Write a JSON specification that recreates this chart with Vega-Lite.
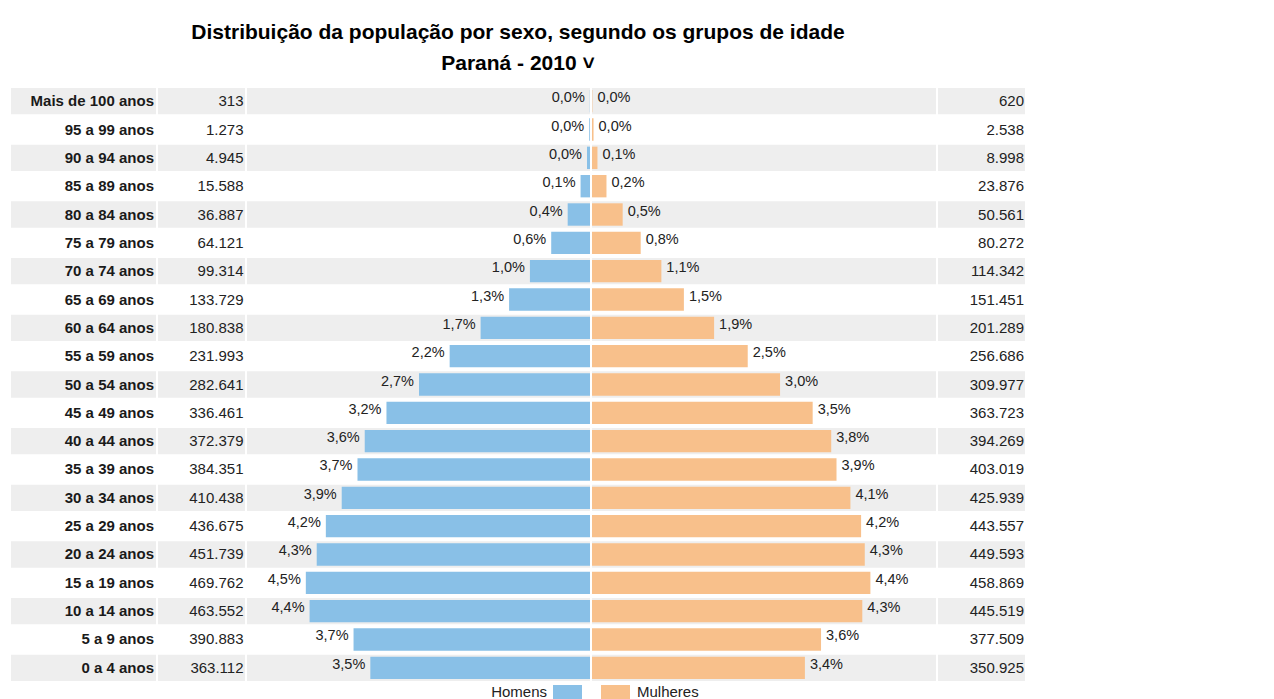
{
  "$schema": "https://vega.github.io/schema/vega-lite/v6.json",
  "padding": {"left": 11, "top": 22, "right": 5, "bottom": 5},
  "background": "#ffffff",
  "title": {
    "text": "Distribuição da população por sexo, segundo os grupos de idade",
    "subtitle": "Paraná - 2010 ˅",
    "anchor": "middle",
    "font": "Liberation Sans",
    "fontSize": 21,
    "fontWeight": "bold",
    "color": "#000000",
    "subtitleFont": "Liberation Sans",
    "subtitleFontSize": 21,
    "subtitleFontWeight": "bold",
    "subtitleColor": "#000000",
    "subtitlePadding": 10,
    "offset": 14
  },
  "data": {
    "values": [
      {"ordem": 1, "idade": "Mais de 100 anos", "homens": 313, "mulheres": 620, "pct_h": 0.000, "pct_m": 0.000},
      {"ordem": 2, "idade": "95 a 99 anos", "homens": 1273, "mulheres": 2538, "pct_h": 0.000, "pct_m": 0.000},
      {"ordem": 3, "idade": "90 a 94 anos", "homens": 4945, "mulheres": 8998, "pct_h": 0.000, "pct_m": 0.001},
      {"ordem": 4, "idade": "85 a 89 anos", "homens": 15588, "mulheres": 23876, "pct_h": 0.001, "pct_m": 0.002},
      {"ordem": 5, "idade": "80 a 84 anos", "homens": 36887, "mulheres": 50561, "pct_h": 0.004, "pct_m": 0.005},
      {"ordem": 6, "idade": "75 a 79 anos", "homens": 64121, "mulheres": 80272, "pct_h": 0.006, "pct_m": 0.008},
      {"ordem": 7, "idade": "70 a 74 anos", "homens": 99314, "mulheres": 114342, "pct_h": 0.010, "pct_m": 0.011},
      {"ordem": 8, "idade": "65 a 69 anos", "homens": 133729, "mulheres": 151451, "pct_h": 0.013, "pct_m": 0.015},
      {"ordem": 9, "idade": "60 a 64 anos", "homens": 180838, "mulheres": 201289, "pct_h": 0.017, "pct_m": 0.019},
      {"ordem": 10, "idade": "55 a 59 anos", "homens": 231993, "mulheres": 256686, "pct_h": 0.022, "pct_m": 0.025},
      {"ordem": 11, "idade": "50 a 54 anos", "homens": 282641, "mulheres": 309977, "pct_h": 0.027, "pct_m": 0.030},
      {"ordem": 12, "idade": "45 a 49 anos", "homens": 336461, "mulheres": 363723, "pct_h": 0.032, "pct_m": 0.035},
      {"ordem": 13, "idade": "40 a 44 anos", "homens": 372379, "mulheres": 394269, "pct_h": 0.036, "pct_m": 0.038},
      {"ordem": 14, "idade": "35 a 39 anos", "homens": 384351, "mulheres": 403019, "pct_h": 0.037, "pct_m": 0.039},
      {"ordem": 15, "idade": "30 a 34 anos", "homens": 410438, "mulheres": 425939, "pct_h": 0.039, "pct_m": 0.041},
      {"ordem": 16, "idade": "25 a 29 anos", "homens": 436675, "mulheres": 443557, "pct_h": 0.042, "pct_m": 0.042},
      {"ordem": 17, "idade": "20 a 24 anos", "homens": 451739, "mulheres": 449593, "pct_h": 0.043, "pct_m": 0.043},
      {"ordem": 18, "idade": "15 a 19 anos", "homens": 469762, "mulheres": 458869, "pct_h": 0.045, "pct_m": 0.044},
      {"ordem": 19, "idade": "10 a 14 anos", "homens": 463552, "mulheres": 445519, "pct_h": 0.044, "pct_m": 0.043},
      {"ordem": 20, "idade": "5 a 9 anos", "homens": 390883, "mulheres": 377509, "pct_h": 0.037, "pct_m": 0.036},
      {"ordem": 21, "idade": "0 a 4 anos", "homens": 363112, "mulheres": 350925, "pct_h": 0.035, "pct_m": 0.034}
    ]
  },
  "spacing": 2,
  "resolve": {"scale": {"color": "independent", "x": "independent"}, "legend": {"color": "independent"}},
  "hconcat": [
    {
      "width": 145,
      "height": 593,
      "encoding": {
        "y": {"field": "idade", "type": "nominal", "axis": null,
          "scale": {"paddingInner": 0.07, "paddingOuter": 0, "domain": ["Mais de 100 anos", "95 a 99 anos", "90 a 94 anos", "85 a 89 anos", "80 a 84 anos", "75 a 79 anos", "70 a 74 anos", "65 a 69 anos", "60 a 64 anos", "55 a 59 anos", "50 a 54 anos", "45 a 49 anos", "40 a 44 anos", "35 a 39 anos", "30 a 34 anos", "25 a 29 anos", "20 a 24 anos", "15 a 19 anos", "10 a 14 anos", "5 a 9 anos", "0 a 4 anos"]}}
      },
      "layer": [
        {"transform": [{"filter": "datum.ordem % 2 == 1"}], "mark": {"type": "rect", "color": "#eeeeee"}},
        {"mark": {"type": "text", "align": "right", "dx": -2, "font": "Liberation Sans", "fontSize": 15, "fontWeight": "bold", "color": "#1a1a1a"},
         "encoding": {"x": {"value": "width"}, "text": {"field": "idade"}}}
      ]
    },
    {
      "width": 87,
      "height": 593,
      "encoding": {
        "y": {"field": "idade", "type": "nominal", "axis": null,
          "scale": {"paddingInner": 0.07, "paddingOuter": 0, "domain": ["Mais de 100 anos", "95 a 99 anos", "90 a 94 anos", "85 a 89 anos", "80 a 84 anos", "75 a 79 anos", "70 a 74 anos", "65 a 69 anos", "60 a 64 anos", "55 a 59 anos", "50 a 54 anos", "45 a 49 anos", "40 a 44 anos", "35 a 39 anos", "30 a 34 anos", "25 a 29 anos", "20 a 24 anos", "15 a 19 anos", "10 a 14 anos", "5 a 9 anos", "0 a 4 anos"]}}
      },
      "layer": [
        {"transform": [{"filter": "datum.ordem % 2 == 1"}], "mark": {"type": "rect", "color": "#eeeeee"}},
        {"mark": {"type": "text", "align": "right", "dx": -1.5, "font": "Liberation Sans", "fontSize": 15, "color": "#222222"},
         "encoding": {"x": {"value": "width"}, "text": {"field": "homens", "type": "quantitative", "format": ",d"}}}
      ]
    },
    {
      "width": 343,
      "height": 593,
      "encoding": {
        "y": {"field": "idade", "type": "nominal", "axis": null,
          "scale": {"paddingInner": 0.07, "paddingOuter": 0, "domain": ["Mais de 100 anos", "95 a 99 anos", "90 a 94 anos", "85 a 89 anos", "80 a 84 anos", "75 a 79 anos", "70 a 74 anos", "65 a 69 anos", "60 a 64 anos", "55 a 59 anos", "50 a 54 anos", "45 a 49 anos", "40 a 44 anos", "35 a 39 anos", "30 a 34 anos", "25 a 29 anos", "20 a 24 anos", "15 a 19 anos", "10 a 14 anos", "5 a 9 anos", "0 a 4 anos"]}}
      },
      "layer": [
        {"transform": [{"filter": "datum.ordem % 2 == 1"}], "mark": {"type": "rect", "color": "#eeeeee"}},
        {"mark": {"type": "bar", "height": {"band": 0.85}},
         "encoding": {
           "x": {"field": "homens", "type": "quantitative", "axis": null, "scale": {"domain": [0, 567000], "reverse": true, "nice": false, "zero": true}},
           "color": {"datum": "Homens", "type": "nominal", "scale": {"domain": ["Homens"], "range": ["#89c0e7"]},
             "legend": {"orient": "none", "legendX": 306, "legendY": 597, "title": null, "padding": 0, "symbolType": "square", "symbolSize": 841, "symbolStrokeWidth": 0, "labelAlign": "right", "labelOffset": -35, "labelBaseline": "bottom", "labelFont": "Liberation Sans", "labelFontSize": 15, "labelColor": "#222222"}}
         }},
        {"mark": {"type": "text", "align": "right", "dx": -5, "dy": -3, "font": "Liberation Sans", "fontSize": 14.5, "color": "#222222"},
         "encoding": {
           "x": {"field": "homens", "type": "quantitative"},
           "text": {"field": "pct_h", "type": "quantitative", "format": ".1%"}
         }}
      ]
    },
    {
      "width": 344,
      "height": 593,
      "encoding": {
        "y": {"field": "idade", "type": "nominal", "axis": null,
          "scale": {"paddingInner": 0.07, "paddingOuter": 0, "domain": ["Mais de 100 anos", "95 a 99 anos", "90 a 94 anos", "85 a 89 anos", "80 a 84 anos", "75 a 79 anos", "70 a 74 anos", "65 a 69 anos", "60 a 64 anos", "55 a 59 anos", "50 a 54 anos", "45 a 49 anos", "40 a 44 anos", "35 a 39 anos", "30 a 34 anos", "25 a 29 anos", "20 a 24 anos", "15 a 19 anos", "10 a 14 anos", "5 a 9 anos", "0 a 4 anos"]}}
      },
      "layer": [
        {"transform": [{"filter": "datum.ordem % 2 == 1"}], "mark": {"type": "rect", "color": "#eeeeee"}},
        {"mark": {"type": "bar", "height": {"band": 0.85}},
         "encoding": {
           "x": {"field": "mulheres", "type": "quantitative", "axis": null, "scale": {"domain": [0, 567000], "nice": false, "zero": true}},
           "color": {"datum": "Mulheres", "type": "nominal", "scale": {"domain": ["Mulheres"], "range": ["#f8c08b"]},
             "legend": {"orient": "none", "legendX": 9, "legendY": 597, "title": null, "padding": 0, "symbolType": "square", "symbolSize": 841, "symbolStrokeWidth": 0, "labelAlign": "left", "labelOffset": 7, "labelBaseline": "bottom", "labelFont": "Liberation Sans", "labelFontSize": 15, "labelColor": "#222222"}}
         }},
        {"mark": {"type": "text", "align": "left", "dx": 5, "dy": -3, "font": "Liberation Sans", "fontSize": 14.5, "color": "#222222"},
         "encoding": {
           "x": {"field": "mulheres", "type": "quantitative"},
           "text": {"field": "pct_m", "type": "quantitative", "format": ".1%"}
         }}
      ]
    },
    {
      "width": 87,
      "height": 593,
      "encoding": {
        "y": {"field": "idade", "type": "nominal", "axis": null,
          "scale": {"paddingInner": 0.07, "paddingOuter": 0, "domain": ["Mais de 100 anos", "95 a 99 anos", "90 a 94 anos", "85 a 89 anos", "80 a 84 anos", "75 a 79 anos", "70 a 74 anos", "65 a 69 anos", "60 a 64 anos", "55 a 59 anos", "50 a 54 anos", "45 a 49 anos", "40 a 44 anos", "35 a 39 anos", "30 a 34 anos", "25 a 29 anos", "20 a 24 anos", "15 a 19 anos", "10 a 14 anos", "5 a 9 anos", "0 a 4 anos"]}}
      },
      "layer": [
        {"transform": [{"filter": "datum.ordem % 2 == 1"}], "mark": {"type": "rect", "color": "#eeeeee"}},
        {"mark": {"type": "text", "align": "right", "dx": -1, "font": "Liberation Sans", "fontSize": 15, "color": "#222222"},
         "encoding": {"x": {"value": "width"}, "text": {"field": "mulheres", "type": "quantitative", "format": ",d"}}}
      ]
    }
  ],
  "config": {
    "view": {"stroke": null},
    "locale": {"number": {"decimal": ",", "thousands": ".", "grouping": [3], "currency": ["R$", ""]}}
  }
}
